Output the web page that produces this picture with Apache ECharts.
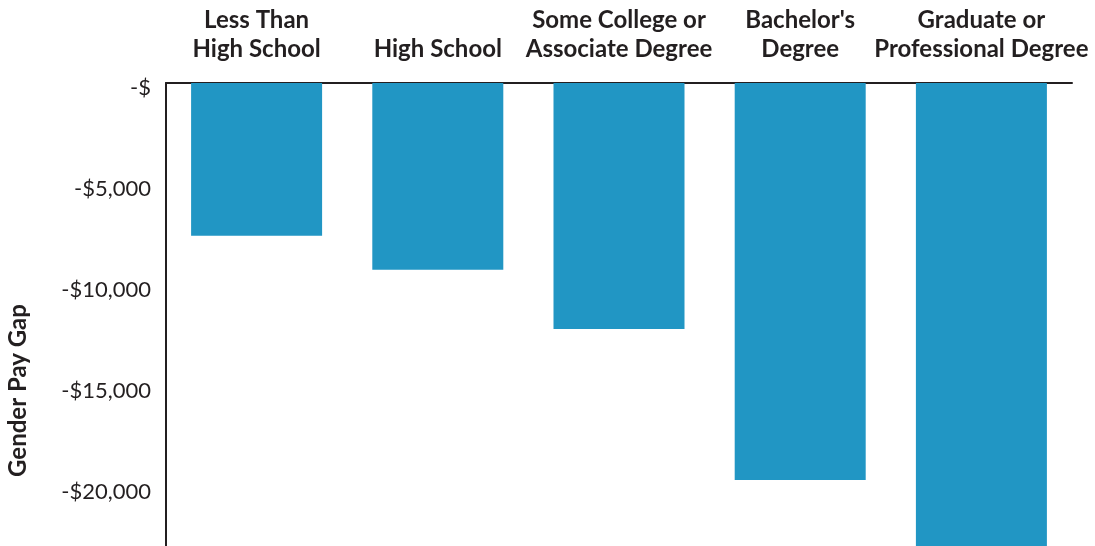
<!DOCTYPE html>
<html>
<head>
<meta charset="utf-8">
<script src="https://cdn.jsdelivr.net/npm/echarts@6/dist/echarts.min.js"></script>
<style>
  html, body { margin: 0; padding: 0; background: #fff; }
  #chart { width: 1095px; height: 546px; }
</style>
</head>
<body>
<div id="chart"></div>
<script>
// education levels
const categories = [
  'Less Than\nHigh School',
  'High School',
  'Some College or\nAssociate Degree',
  "Bachelor's\nDegree",
  'Graduate or\nProfessional Degree'
];
// gender pay gap, dollars (last bar runs off the bottom of the picture)
const payGap = [-7560, -9250, -12180, -19650, -24000];

const yMin = -25000;
const yMax = 0;
const yStep = 5000;

const ink = '#231f20';
const barColor = '#2196c4';
const fontFamily = 'Lato, "Noto Sans", sans-serif';

function fmtMoney(v) {
  if (v === 0) return '-$';
  return '-$' + Math.abs(v).toLocaleString('en-US');
}

const chart = echarts.init(document.getElementById('chart'));

chart.setOption({
  animation: false,
  textStyle: { fontFamily: fontFamily },
  grid: {
    left: 166,
    right: 23,
    top: 83,
    height: 505, // axis runs past the bottom edge, like the source
    containLabel: false,
    outerBoundsMode: 'none'
  },
  xAxis: {
    type: 'category',
    position: 'top',
    data: categories,
    axisLine: { show: true, lineStyle: { color: ink, width: 2 } },
    axisTick: { show: false },
    axisLabel: {
      margin: 19,
      color: ink,
      fontSize: 24,
      fontWeight: 'bold',
      lineHeight: 29,
      fontFamily: fontFamily,
      interval: 0
    }
  },
  yAxis: {
    type: 'value',
    min: yMin,
    max: yMax,
    interval: yStep,
    name: 'Gender Pay Gap',
    nameLocation: 'middle',
    nameGap: 136,
    nameRotate: 90,
    nameTextStyle: {
      color: ink,
      fontSize: 24,
      fontWeight: 'bold',
      fontFamily: fontFamily,
      padding: [0, 110, 0, 0]
    },
    axisLine: { show: true, lineStyle: { color: ink, width: 2 } },
    axisTick: { show: false },
    splitLine: { show: false },
    axisLabel: {
      margin: 15,
      color: ink,
      fontSize: 22,
      fontFamily: fontFamily,
      verticalAlign: 'top',
      lineHeight: 10,
      formatter: fmtMoney
    }
  },
  series: [
    {
      type: 'bar',
      data: payGap,
      barWidth: 131,
      itemStyle: { color: barColor },
      clip: true
    }
  ]
});
</script>
</body>
</html>
